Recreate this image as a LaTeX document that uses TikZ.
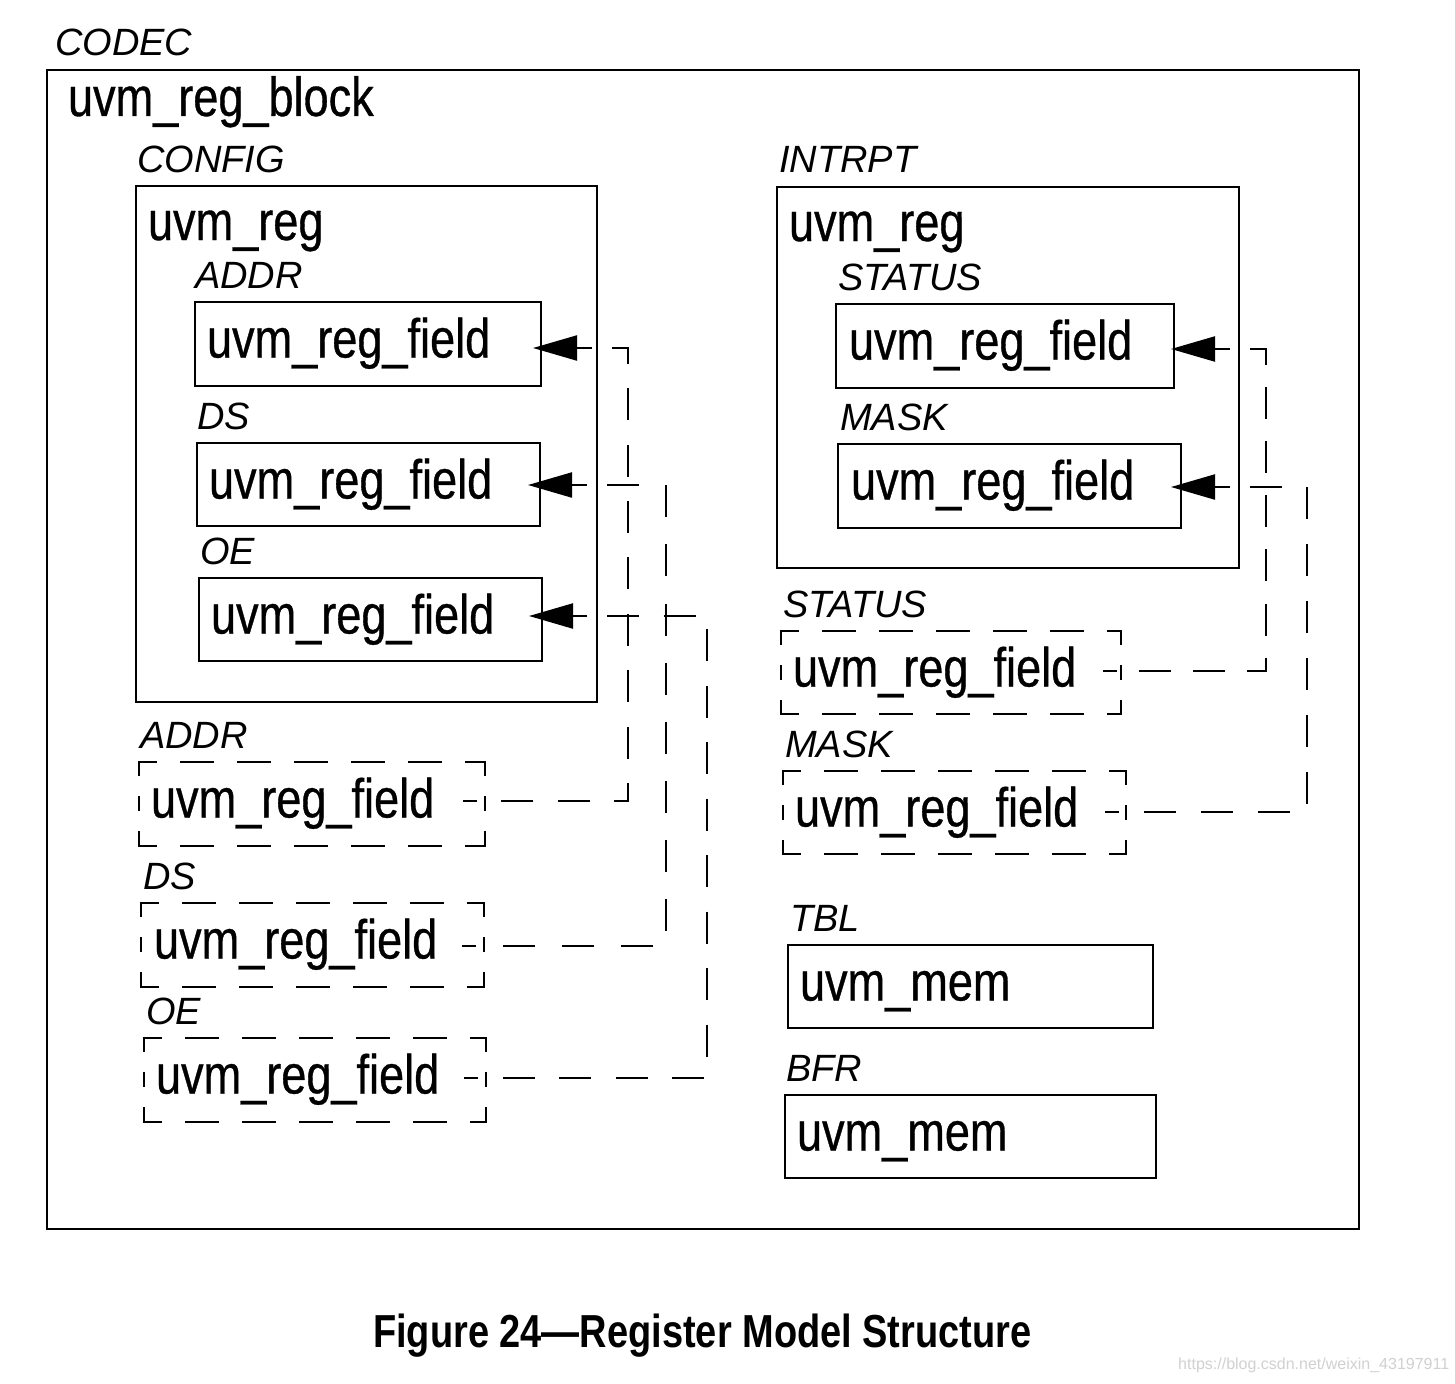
\documentclass[tikz,border=0pt]{standalone}
\usepackage{fontspec}
\setmainfont{Liberation Sans}
\newfontfamily\uvmfont[FakeStretch=0.82,FakeBold=0.6]{Liberation Sans}
\newfontfamily\figcapfont[FakeStretch=0.82]{Liberation Sans Bold}
\usetikzlibrary{arrows.meta}
\newcommand\dashedges[1]{%
  \draw[dh] (#1.north west) -- (#1.north east);
  \draw[dh] (#1.south west) -- (#1.south east);
  \draw[dv] (#1.north west) -- (#1.south west);
  \draw[dv] (#1.north east) -- (#1.south east);}
\begin{document}
\begin{tikzpicture}[x=1pt,y=-1pt,
  solidbox/.style={draw, line width=2.2pt, rectangle, anchor=north west, inner sep=0pt, outer sep=0pt},
  hollowbox/.style={draw=none, rectangle, anchor=north west, inner sep=0pt, outer sep=0pt},
  txt/.style={anchor=base west, inner sep=0pt, outer sep=0pt, font=\uvmfont\fontsize{55}{60}\selectfont},
  lbl/.style={anchor=base west, inner sep=0pt, outer sep=0pt, font=\fontsize{38}{42}\selectfont\itshape},
  dh/.style={line width=2.2pt, dash pattern=on 32pt off 25pt, dash phase=15pt, line cap=rect},
  dv/.style={line width=2.2pt, dash pattern=on 13pt off 22pt, line cap=rect},
  conn/.style 2 args={line width=2.2pt, dash pattern=on 32pt off #1pt, dash phase=#2pt},
  arr/.style={line width=2.2pt, -{Triangle[length=44pt,width=25pt]}}
]
\useasboundingbox (0,0) rectangle (1455,1383);
\fill[white] (0,0) rectangle (1455,1383);

% outer block
\node[lbl] (codec) at (55,56) {CODEC};
\node[solidbox, minimum width=1312pt, minimum height=1159pt] (block) at (47,70) {};
\node[txt] (blocktxt) at (68,116) {uvm\_reg\_block};

% CONFIG register
\node[lbl] (configlbl) at (137,172) {CONFIG};
\node[solidbox, minimum width=461pt, minimum height=516pt] (config) at (136,186) {};
\node[txt] (configtxt) at (148,240) {uvm\_reg};
\node[lbl] (addrlbl) at (195,288) {ADDR};
\node[solidbox, minimum width=346pt, minimum height=84pt] (addrF) at (195,302) {};
\node[txt] (addrFt) at (207,357.5) {uvm\_reg\_field};
\node[lbl] (dslbl) at (197,429) {DS};
\node[solidbox, minimum width=343pt, minimum height=83pt] (dsF) at (197,443) {};
\node[txt] (dsFt) at (209,498.5) {uvm\_reg\_field};
\node[lbl] (oelbl) at (200,564) {OE};
\node[solidbox, minimum width=343pt, minimum height=83pt] (oeF) at (199,578) {};
\node[txt] (oeFt) at (211,633.5) {uvm\_reg\_field};

% INTRPT register
\node[lbl] (intrptlbl) at (779,173) {INTRPT};
\node[solidbox, minimum width=462pt, minimum height=381pt] (intrpt) at (777,187) {};
\node[txt] (intrpttxt) at (789,241) {uvm\_reg};
\node[lbl] (statlbl) at (838,290) {STATUS};
\node[solidbox, minimum width=338pt, minimum height=84pt] (statF) at (836,304) {};
\node[txt] (statFt) at (849,359.5) {uvm\_reg\_field};
\node[lbl] (masklbl) at (840,430) {MASK};
\node[solidbox, minimum width=343pt, minimum height=84pt] (maskF) at (838,444) {};
\node[txt] (maskFt) at (851,499.5) {uvm\_reg\_field};

% block-level field references (dashed)
\node[lbl] (addrElbl) at (140,748) {ADDR};
\node[hollowbox, minimum width=346pt, minimum height=84pt] (addrE) at (139,762) {};
\node[txt] (addrEt) at (151,817.5) {uvm\_reg\_field};
\node[lbl] (dsElbl) at (143,889) {DS};
\node[hollowbox, minimum width=343pt, minimum height=84pt] (dsE) at (141,903) {};
\node[txt] (dsEt) at (154,958.5) {uvm\_reg\_field};
\node[lbl] (oeElbl) at (146,1024) {OE};
\node[hollowbox, minimum width=342pt, minimum height=84pt] (oeE) at (144,1038) {};
\node[txt] (oeEt) at (156,1093.5) {uvm\_reg\_field};
\node[lbl] (statElbl) at (783,617) {STATUS};
\node[hollowbox, minimum width=340pt, minimum height=83pt] (statE) at (781,631) {};
\node[txt] (statEt) at (793,686.5) {uvm\_reg\_field};
\node[lbl] (maskElbl) at (785,757) {MASK};
\node[hollowbox, minimum width=343pt, minimum height=83pt] (maskE) at (783,771) {};
\node[txt] (maskEt) at (795,826.5) {uvm\_reg\_field};
\dashedges{addrE}
\dashedges{dsE}
\dashedges{oeE}
\dashedges{statE}
\dashedges{maskE}

% memories
\node[lbl] (tbllbl) at (790,931) {TBL};
\node[solidbox, minimum width=365pt, minimum height=83pt] (tbl) at (788,945) {};
\node[txt] (tbltxt) at (800,1000.5) {uvm\_mem};
\node[lbl] (bfrlbl) at (786,1081) {BFR};
\node[solidbox, minimum width=371pt, minimum height=83pt] (bfr) at (785,1095) {};
\node[txt] (bfrtxt) at (797,1150.5) {uvm\_mem};

% connector columns
\coordinate (vA) at (628,0);
\coordinate (vD) at (666,0);
\coordinate (vO) at (707,0);
\coordinate (vS) at (1266,0);
\coordinate (vM) at (1307,0);

% connector end points
\coordinate (inA) at ([yshift=-4pt]addrF.east);
\coordinate (outA) at ([yshift=3pt]addrE.east);
\coordinate (inD) at ([yshift=-0.5pt]dsF.east);
\coordinate (outD) at ([yshift=-1pt]dsE.east);
\coordinate (inO) at ([yshift=3.5pt]oeF.east);
\coordinate (outO) at ([yshift=2pt]oeE.east);
\coordinate (inS) at ([yshift=-3pt]statF.east);
\coordinate (outS) at ([yshift=1.5pt]statE.east);
\coordinate (inM) at ([yshift=-1pt]maskF.east);
\coordinate (outM) at ([yshift=0.5pt]maskE.east);

% connectors: dashed run from the arrow base to the block-level field, then the solid arrow
\draw[conn={24.36}{36.36}] ([xshift=51pt]inA) -| (vA |- outA) -- ([xshift=-22pt]outA);
\draw[arr] ([xshift=51pt]inA) -- ([xshift=-8pt]inA);
\draw[conn={27.17}{39.17}] ([xshift=47pt]inD) -| (vD |- outD) -- ([xshift=-22pt]outD);
\draw[arr] ([xshift=47pt]inD) -- ([xshift=-12pt]inD);
\draw[conn={24.5}{36.5}] ([xshift=45pt]inO) -| (vO |- outO) -- ([xshift=-22pt]outO);
\draw[arr] ([xshift=45pt]inO) -- ([xshift=-13pt]inO);
\draw[conn={22.1}{34.1}] ([xshift=56pt]inS) -| (vS |- outS) -- ([xshift=-18pt]outS);
\draw[arr] ([xshift=56pt]inS) -- ([xshift=-3pt]inS);
\draw[conn={25}{37}] ([xshift=49pt]inM) -| (vM |- outM) -- ([xshift=-21pt]outM);
\draw[arr] ([xshift=49pt]inM) -- ([xshift=-10pt]inM);

% caption and watermark
\node[anchor=base west, inner sep=0pt, font=\figcapfont\fontsize{46.3}{50}\selectfont] (caption) at (373,1347) {Figure 24—Register Model Structure};
\node[anchor=base west, inner sep=0pt, text=black!18, font=\fontsize{16}{18}\selectfont] (wm) at (1178,1369) {https://blog.csdn.net/weixin\_43197911};
\end{tikzpicture}
\end{document}
